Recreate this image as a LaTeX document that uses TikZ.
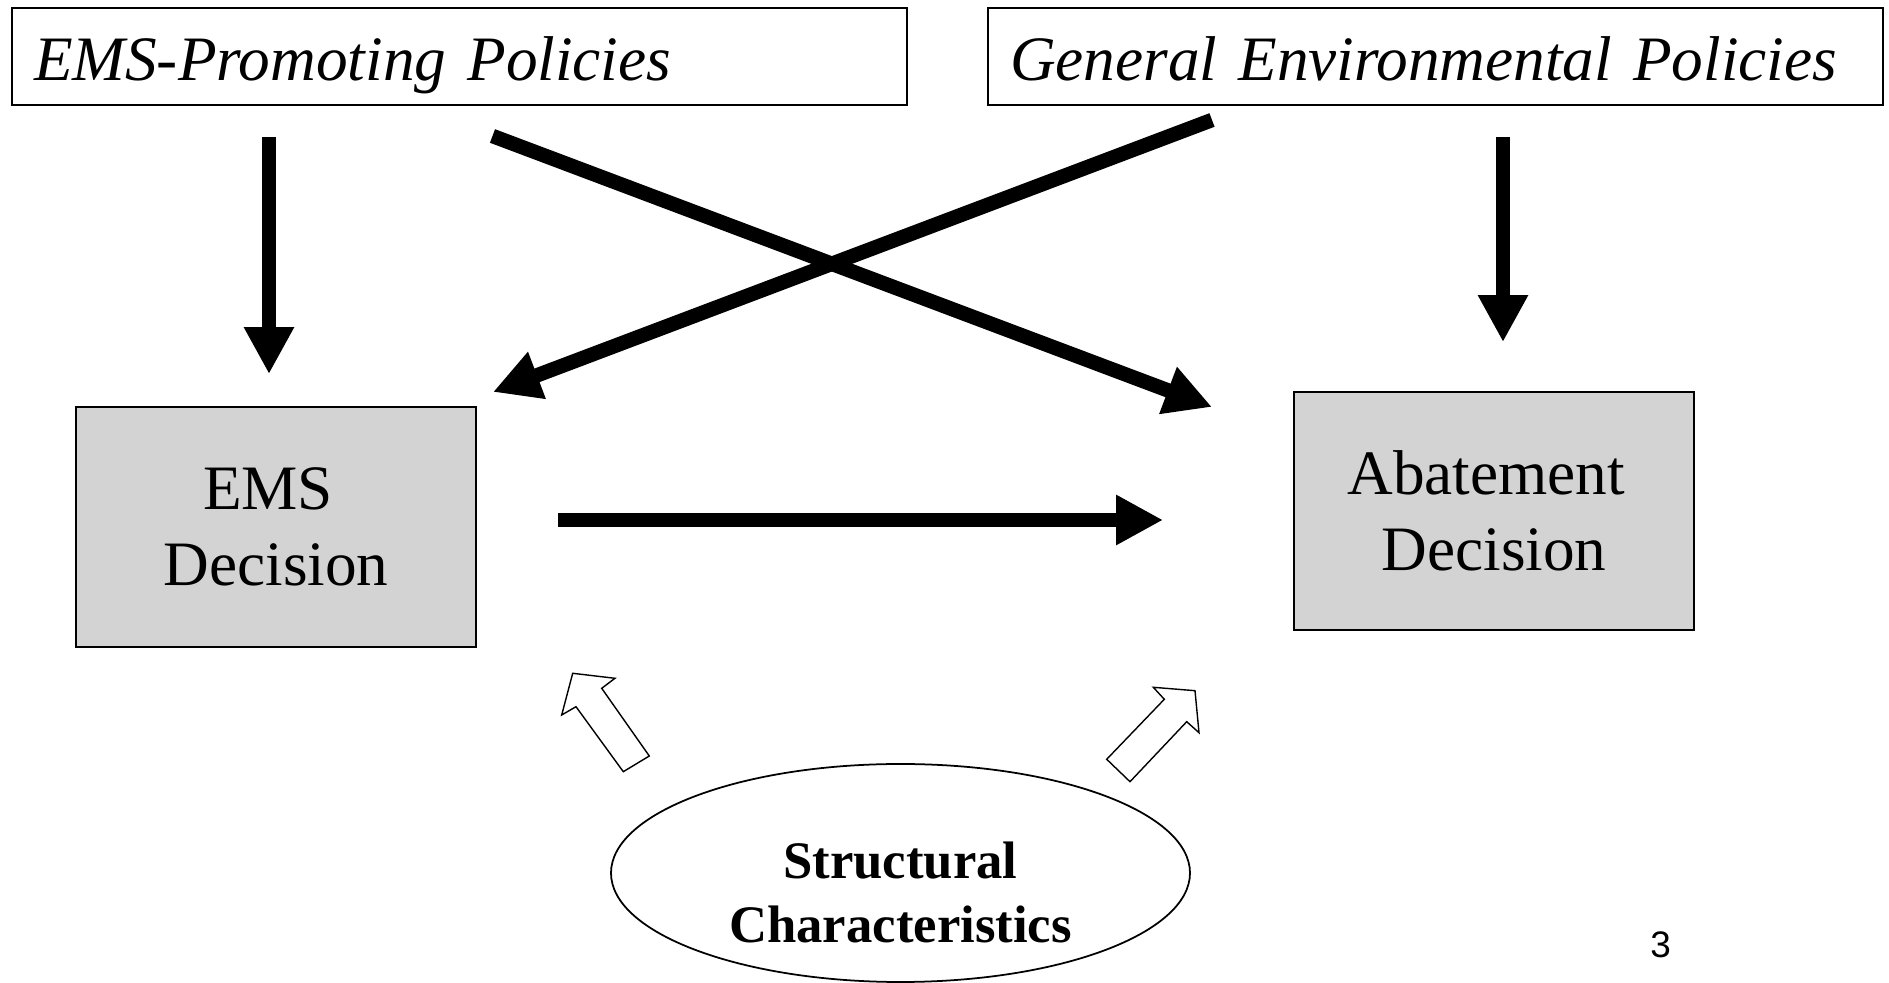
\documentclass[tikz,border=0pt]{standalone}
\usepackage{fontspec}
\setmainfont{Liberation Serif}
\newfontfamily\pagefont{Liberation Sans}
\usepackage{tikz}
\usetikzlibrary{arrows.meta, positioning, shapes.geometric}
\definecolor{BG}{RGB}{211,211,211}

\begin{document}
\begin{tikzpicture}[
  pol/.style={draw, line width=1pt, minimum width=17.9cm, minimum height=1.94cm,
              inner xsep=0.44cm, inner ysep=0pt, text width=17.02cm, align=left,
              text height=0.98cm, text depth=0cm,
              font=\fontsize{36}{43}\selectfont\itshape},
  dec/.style={draw, line width=1pt, fill=BG, minimum width=8cm, minimum height=4.8cm,
              align=center, font=\fontsize{36}{43.5}\selectfont},
  arr/.style={-{Triangle[length=0.94cm, width=0.94cm]}, line width=0.29cm},
  blk/.style={draw, line width=0.8pt, line join=miter, fill=white}
]
\useasboundingbox (0,0) rectangle (37.78,19.66);

% Policies
\node[pol] (emspol) at (9.19,18.53) {EMS-Promoting Policies};
\node[pol] (genpol) at (28.71,18.53) {General Environmental Policies};

% Decisions
\node[dec] (ems) at (5.52,9.12) {EMS\kern0.25em\\Decision};
\node[dec, minimum height=4.76cm] (abate) at (29.88,9.44) {Abatement\kern0.25em\\Decision};

% Structural characteristics
\node[ellipse, draw, line width=1pt, minimum width=11.58cm, minimum height=4.36cm,
      inner sep=0pt] (struct) at (18.01,2.2) {};
\node[font=\fontsize{30}{36}\selectfont\bfseries, align=center] (structtxt) at (18.01,1.81)
  {Structural\\Characteristics};

% Crossing arrows
\coordinate (xas) at (9.85,16.94);
\coordinate (xae) at (24.24,11.52);
\coordinate (xbs) at (24.24,17.26);
\coordinate (xbe) at (9.86,11.82);

% Arrows
\draw[arr, shorten <=0.62cm, shorten >=0.64cm]
  ([xshift=-0.14cm]ems.north |- emspol.south) -- ([xshift=-0.14cm]ems.north);
\draw[arr, shorten <=0.62cm, shorten >=0.98cm]
  ([xshift=0.18cm]abate.north |- genpol.south) -- ([xshift=0.18cm]abate.north);
\draw[arr] (xas) -- (xae);
\draw[arr] (xbs) -- (xbe);
\draw[arr, shorten <=1.62cm, shorten >=2.6cm]
  ([yshift=0.14cm]ems.east) -- ([yshift=0.14cm]ems.east -| abate.west);

% Open block arrows
\draw[blk] (11.454,6.194) -- (12.30,6.094) -- (12.034,5.894) -- (12.986,4.54)
  -- (12.466,4.226) -- (11.52,5.526) -- (11.234,5.36) -- cycle;
\draw[blk] (23.066,5.914) -- (23.90,5.846) -- (23.98,5.006) -- (23.734,5.226)
  -- (22.60,4.026) -- (22.134,4.474) -- (23.286,5.674) -- cycle;

% Page number
\node[font=\pagefont\fontsize{21}{25}\selectfont] (pgno) at (33.21,0.76) {3};
\end{tikzpicture}
\end{document}
